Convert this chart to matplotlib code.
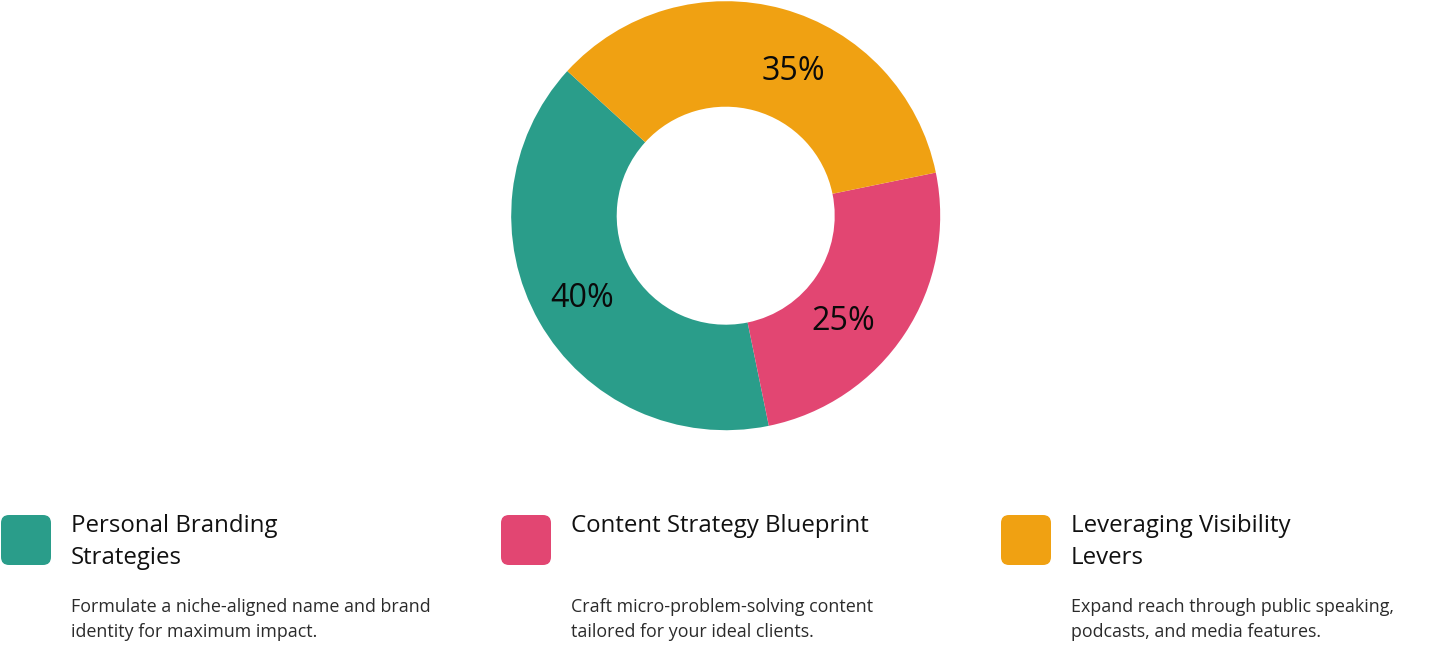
import matplotlib.pyplot as plt
import numpy as np
from matplotlib.patches import FancyBboxPatch

plt.rcParams["font.family"] = ["Open Sans", "DejaVu Sans"]

# data
categories = ["Personal Branding Strategies", "Content Strategy Blueprint", "Leveraging Visibility Levers"]
title_lines = [["Personal Branding", "Strategies"], ["Content Strategy Blueprint"], ["Leveraging Visibility", "Levers"]]
descriptions = [
    ["Formulate a niche-aligned name and brand", "identity for maximum impact."],
    ["Craft micro-problem-solving content", "tailored for your ideal clients."],
    ["Expand reach through public speaking,", "podcasts, and media features."],
]
shares = [40, 25, 35]
colors = ["#2A9D8A", "#E24672", "#F0A112"]

W, H = 1452, 670
fig = plt.figure(figsize=(W / 100, H / 100), dpi=100)

# donut
cx, cy, r_out, r_in = 725.7, 215.7, 214.5, 109
ax = fig.add_axes([(cx - r_out) / W, (H - cy - r_out) / H, 2 * r_out / W, 2 * r_out / H])
start = 137.6
wedges, _ = ax.pie(
    shares,
    colors=colors,
    startangle=start,
    counterclock=True,
    radius=1,
    wedgeprops=dict(width=(r_out - r_in) / r_out, linewidth=0),
)
ax.set_xlim(-1, 1)
ax.set_ylim(-1, 1)
ax.axis("off")

# percentage labels (angle, radius in axis units)
label_pos = [(210.0, 0.771), (-41.8, 0.737), (64.8, 0.743)]
for val, (ang, rr) in zip(shares, label_pos):
    a = np.deg2rad(ang)
    ax.text(rr * np.cos(a), rr * np.sin(a), f"{val}%", ha="center", va="center",
            fontsize=23.2, color="#0a0a0a")

# legend blocks
col_x = [1, 501, 1001]
for i in range(3):
    x0 = col_x[i]
    box = FancyBboxPatch((x0 / 100, (H - 565) / 100), 0.5, 0.5,
                         boxstyle="round,pad=0,rounding_size=0.08",
                         transform=fig.dpi_scale_trans, facecolor=colors[i],
                         edgecolor="none")
    fig.patches.append(box)
    tx = x0 + 70
    for j, line in enumerate(title_lines[i]):
        fig.text(tx / W, 1 - (531.7 + 32.3 * j) / H, line, fontsize=17.3,
                 color="#111111", va="baseline", ha="left")
    for j, line in enumerate(descriptions[i]):
        fig.text(tx / W, 1 - (612.3 + 24.4 * j) / H, line, fontsize=12.9,
                 color="#2b2b2b", va="baseline", ha="left")

fig.savefig("out.png", dpi=100, facecolor="white")
